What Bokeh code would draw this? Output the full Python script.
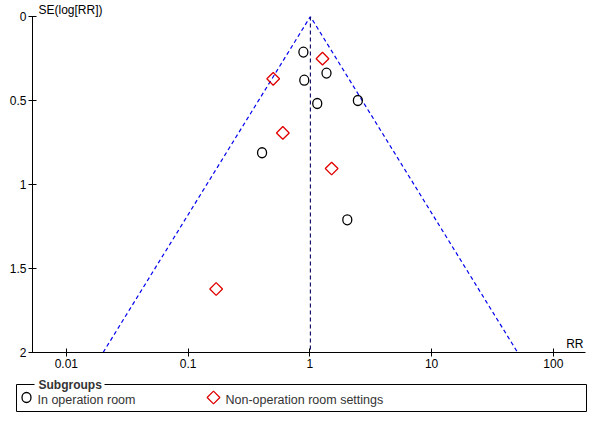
import math
from bokeh.plotting import figure
from bokeh.models import Range1d, FixedTicker, CustomJSTickFormatter, Label, ColumnDataSource
from bokeh.core.properties import value
from bokeh.embed import file_html
from bokeh.resources import INLINE

# ---- data ----
circle_rr = [0.885, 1.37, 0.90, 2.48, 1.15, 0.405, 2.03]
circle_se = [0.212, 0.337, 0.379, 0.50, 0.518, 0.811, 1.21]
diamond_rr = [1.27, 0.50, 0.60, 1.51, 0.170]
diamond_se = [0.251, 0.371, 0.693, 0.905, 1.622]
pooled_rr = 1.01
se_max = 2.0
x_ticks = [0.01, 0.1, 1, 10, 100]
y_ticks = [0, 0.5, 1, 1.5, 2]
legend_labels = ["In operation room", "Non-operation room settings"]

FONT = "Liberation Sans"
W = 592

x_lo, x_hi = 10 ** -2.278, 10 ** 2.264
p = figure(width=W, height=378, x_axis_type="log",
           x_range=Range1d(x_lo, x_hi), y_range=Range1d(se_max, 0),
           output_backend="svg", toolbar_location=None,
           min_border_left=32, min_border_right=7, min_border_top=16, min_border_bottom=26)
p.outline_line_color = None
p.grid.visible = False
p.background_fill_color = "white"
p.border_fill_color = "white"

p.title.text = "SE(log[RR])"
p.title.text_font = FONT
p.title.text_font_size = "12px"
p.title.text_font_style = "normal"
p.title.text_color = "black"
p.title.align = "left"
p.title.offset = 6
p.title.standoff = 0

for ax in (p.xaxis[0], p.yaxis[0]):
    ax.major_tick_in = 4
    ax.major_tick_out = 4
    ax.minor_tick_line_color = None
    ax.axis_line_color = "black"
    ax.major_tick_line_color = "black"
    ax.major_label_text_font = FONT
    ax.major_label_text_font_size = "12px"
    ax.major_label_text_color = "black"
    ax.major_label_standoff = 2
    ax.formatter = CustomJSTickFormatter(code="return tick.toString();")
p.xaxis[0].ticker = FixedTicker(ticks=x_ticks)
p.yaxis[0].ticker = FixedTicker(ticks=y_ticks)

# funnel (95% pseudo-confidence limits)
lo_end = pooled_rr * math.exp(-1.96 * se_max)
hi_end = pooled_rr * math.exp(1.96 * se_max)
p.line([lo_end, pooled_rr, hi_end], [se_max, 0, se_max], line_color="#0000ee",
       line_dash="4 3", line_width=1.2)
p.line([pooled_rr, pooled_rr], [0, se_max], line_color="#000060", line_dash="4 3", line_width=1.1)

src_c = ColumnDataSource(dict(x=circle_rr, y=circle_se))
p.ellipse(x="x", y="y", width=9, height=10, width_units="screen", height_units="screen",
          source=src_c, fill_color=None, line_color="black", line_width=1.3)
src_d = ColumnDataSource(dict(x=diamond_rr, y=diamond_se))
p.scatter(x="x", y="y", marker="square", size=9, angle=math.pi / 4, source=src_d,
          fill_color=None, line_color="#e00000", line_width=1.3)

p.add_layout(Label(x=x_hi, y=se_max, x_offset=-2, y_offset=2, text="RR",
                   text_font=FONT, text_font_size="12px", text_color="black",
                   text_align="right", text_baseline="bottom"))

# ---- legend panel ----
lg = figure(width=W, height=42, x_range=Range1d(0, W), y_range=Range1d(42, 0),
            output_backend="svg", toolbar_location=None,
            min_border=0, min_border_left=0, min_border_right=0, min_border_top=0, min_border_bottom=0)
lg.axis.visible = False
lg.grid.visible = False
lg.outline_line_color = None
lg.quad(left=[16], right=[586], top=[6], bottom=[33], fill_color=None, line_color="black", line_width=1)
lg.quad(left=[34], right=[104], top=[1], bottom=[11], fill_color="white", line_color=None)
lg.text(x=[38], y=[6], text=["Subgroups"], text_font=value(FONT), text_font_size="12px",
        text_font_style="bold", text_color="#333333", text_baseline="middle", text_align="left")
lg.ellipse(x=[26], y=[19], width=9, height=10, width_units="screen", height_units="screen",
           fill_color=None, line_color="black", line_width=1.3)
lg.scatter(x=[213], y=[19], marker="square", size=9, angle=math.pi / 4,
           fill_color=None, line_color="#e00000", line_width=1.3)
lg.text(x=[37, 225], y=[21, 21], text=legend_labels, text_font=value(FONT), text_font_size="12.5px",
        text_color="#333333", text_baseline="middle", text_align="left")

open("out.html", "w").write(file_html([p, lg], INLINE))
